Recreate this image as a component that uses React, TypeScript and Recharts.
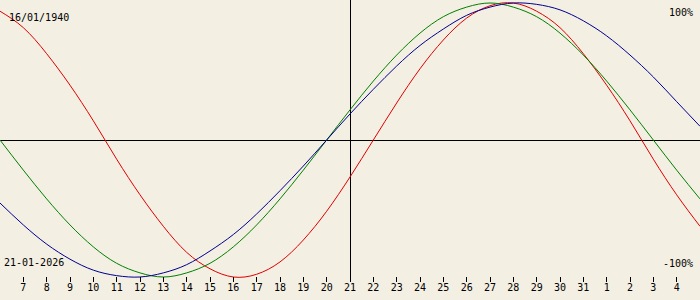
import React from 'react';
import { LineChart, Line, XAxis, YAxis, ReferenceLine } from 'recharts';

// days shown: 6 Jan .. 5 Feb (32+ = February)
const days = [6, 7, 8, 9, 10, 11, 12, 13, 14, 15, 16, 17, 18, 19, 20, 21, 22, 23, 24, 25, 26, 27, 28, 29, 30, 31, 32, 33, 34, 35, 36];

const physical = [0.94, 0.82, 0.63, 0.4, 0.14, -0.14, -0.4, -0.63, -0.82, -0.94, -1.0, -0.98, -0.89, -0.73, -0.52, -0.27, 0, 0.27, 0.52, 0.73, 0.89, 0.98, 1.0, 0.94, 0.82, 0.63, 0.4, 0.14, -0.14, -0.4, -0.63];
const emotional = [0, -0.22, -0.43, -0.62, -0.78, -0.9, -0.97, -1.0, -0.97, -0.9, -0.78, -0.62, -0.43, -0.22, 0, 0.22, 0.43, 0.62, 0.78, 0.9, 0.97, 1.0, 0.97, 0.9, 0.78, 0.62, 0.43, 0.22, 0, -0.22, -0.43];
const intellectual = [-0.46, -0.62, -0.76, -0.87, -0.95, -0.99, -1.0, -0.97, -0.91, -0.81, -0.69, -0.54, -0.37, -0.19, 0, 0.19, 0.37, 0.54, 0.69, 0.81, 0.91, 0.97, 1.0, 0.99, 0.95, 0.87, 0.76, 0.62, 0.46, 0.28, 0.1];

const tickDays = [7, 8, 9, 10, 11, 12, 13, 14, 15, 16, 17, 18, 19, 20, 21, 22, 23, 24, 25, 26, 27, 28, 29, 30, 31, 32, 33, 34, 35];
const tickLabels = ['7', '8', '9', '10', '11', '12', '13', '14', '15', '16', '17', '18', '19', '20', '21', '22', '23', '24', '25', '26', '27', '28', '29', '30', '31', '1', '2', '3', '4'];

const birthDate = '16/01/1940';
const currentDate = '21-01-2026';
const today = 21;

const data = days.map((day, i) => ({
  day,
  physical: physical[i],
  emotional: emotional[i],
  intellectual: intellectual[i],
}));

const font = 'DejaVu Sans Mono, monospace';

export default function App() {
  return (
    <div style={{ position: 'fixed', left: 0, top: 0, width: 700, height: 300, background: '#f3efe3' }}>
      <LineChart width={700} height={300} data={data} margin={{ top: 3, right: 0, bottom: 0, left: 0 }}>
        <XAxis
          type="number"
          dataKey="day"
          domain={[6, 36]}
          ticks={tickDays}
          interval={0}
          tickFormatter={(v) => tickLabels[tickDays.indexOf(v)]}
          axisLine={false}
          tickSize={5}
          tickLine={{ stroke: '#000', shapeRendering: 'crispEdges' }}
          tick={{ fill: '#000', fontSize: 10, fontFamily: font }}
          height={23}
        />
        <YAxis hide domain={[-1, 1]} />
        <ReferenceLine y={0} stroke="#000" shapeRendering="crispEdges" />
        <ReferenceLine
          segment={[{ x: today, y: 1.022 }, { x: today, y: -1.022 }]}
          ifOverflow="visible"
          stroke="#000"
          shapeRendering="crispEdges"
        />
        <Line type="natural" dataKey="physical" stroke="#e00000" strokeWidth={1} dot={false} isAnimationActive={false} />
        <Line type="natural" dataKey="emotional" stroke="#008000" strokeWidth={1} dot={false} isAnimationActive={false} />
        <Line type="natural" dataKey="intellectual" stroke="#000090" strokeWidth={1} dot={false} isAnimationActive={false} />
      </LineChart>
      <svg width={700} height={300} style={{ position: 'absolute', left: 0, top: 0, pointerEvents: 'none' }}>
        <text x={9} y={21} fontSize={10} fontFamily={font} fill="#000">{birthDate}</text>
        <text x={4} y={266} fontSize={10} fontFamily={font} fill="#000">{currentDate}</text>
        <text x={693} y={16} fontSize={10} fontFamily={font} fill="#000" textAnchor="end">100%</text>
        <text x={693} y={267} fontSize={10} fontFamily={font} fill="#000" textAnchor="end">-100%</text>
      </svg>
    </div>
  );
}
